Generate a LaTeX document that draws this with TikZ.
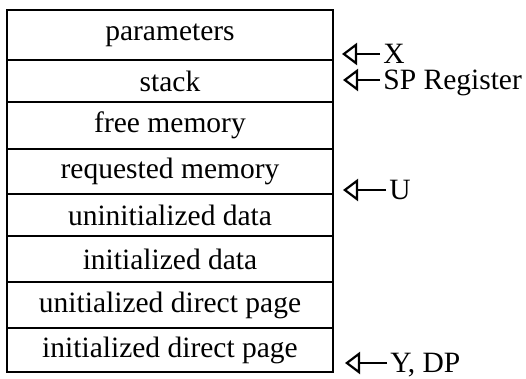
\documentclass[tikz,border=0pt]{standalone}
\usepackage{fontspec}
\setmainfont{Liberation Serif}
\usetikzlibrary{arrows.meta, positioning}
\tikzset{
  memrow/.style={
    draw, line width=1.2pt, outer sep=0pt, inner sep=0pt,
    minimum width=163pt, font=\fontsize{14.75}{17}\selectfont
  },
  reglabel/.style={anchor=west, inner sep=0pt, text depth=0pt, font=\fontsize{14.75}{17}\selectfont},
  regptr/.style={-{Triangle[open, length=7.5pt, width=11pt]}, line width=1.1pt, shorten <=1.5pt}
}
\begin{document}
\begin{tikzpicture}[x=0.5pt, y=-0.5pt, node distance=0pt]
  \useasboundingbox (0,0) rectangle (526,379);
  \node[memrow, minimum height=25pt, anchor=north west] (params) at (7,10) {parameters};
  \node[memrow, minimum height=21pt, below=of params] (stack) {stack};
  \node[memrow, minimum height=23.5pt, below=of stack] (free) {free memory};
  \node[memrow, minimum height=22.5pt, below=of free] (req) {requested memory};
  \node[memrow, minimum height=21pt, below=of req] (uninit) {uninitialized data};
  \node[memrow, minimum height=23pt, below=of uninit] (init) {initialized data};
  \node[memrow, minimum height=23pt, below=of init] (udp) {unitialized direct page};
  \node[memrow, minimum height=22pt, below=of udp] (idp) {initialized direct page};

  \node[reglabel] (xreg) at (383,54) {X};
  \node[reglabel] (spreg) at (383,80) {SP Register};
  \node[reglabel] (ureg) at (389,190) {U};
  \node[reglabel] (yreg) at (390,363) {Y, DP};
  \coordinate (xtip) at (342,54);
  \coordinate (sptip) at (343,80);
  \coordinate (utip) at (343,190);
  \coordinate (ytip) at (345,363);
  \draw[regptr] (xreg) -- (xtip);
  \draw[regptr] (spreg) -- (sptip);
  \draw[regptr] (ureg) -- (utip);
  \draw[regptr] (yreg) -- (ytip);
\end{tikzpicture}
\end{document}
